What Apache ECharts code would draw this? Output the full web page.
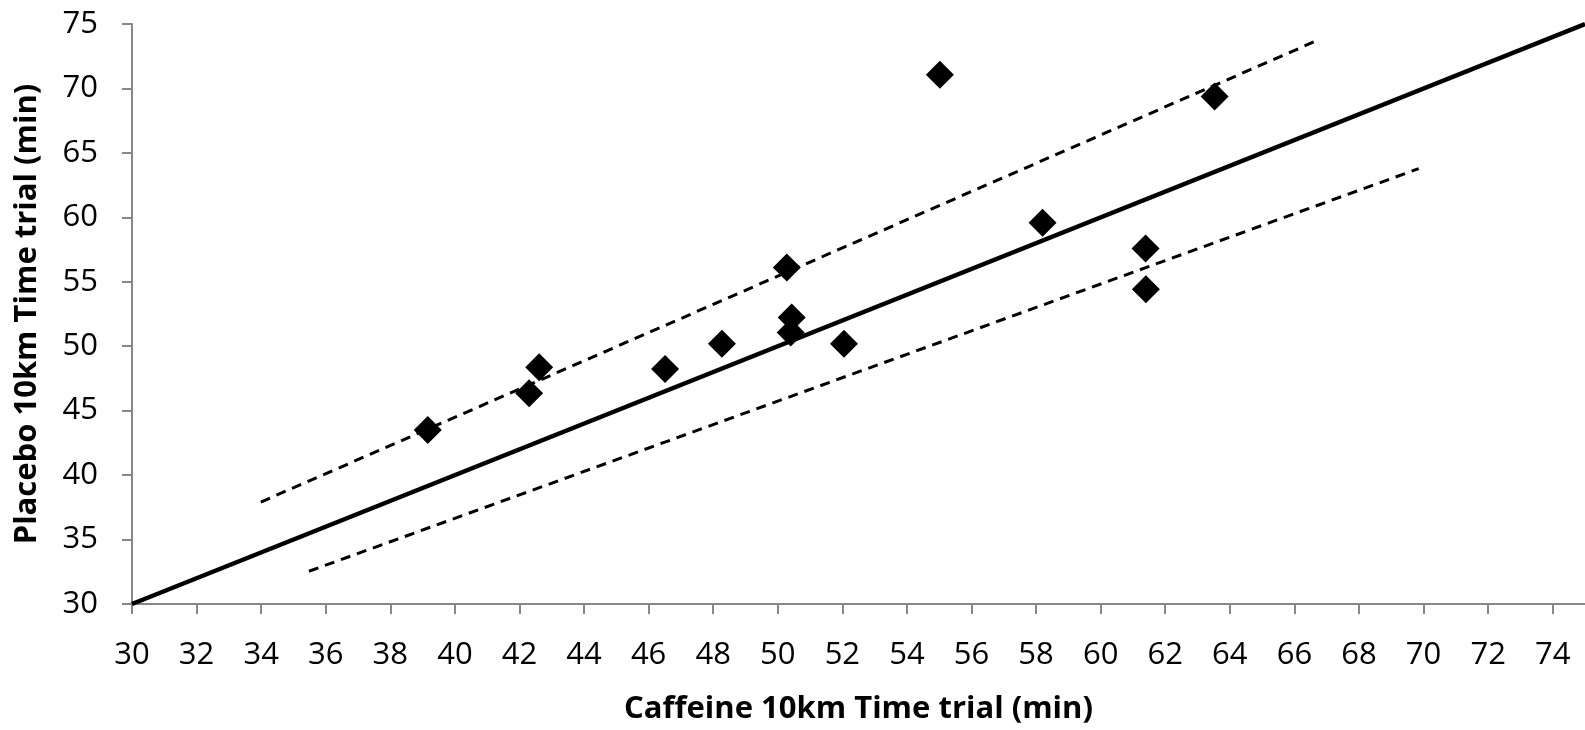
<!DOCTYPE html>
<html>
<head>
<meta charset="utf-8">
<script src="https://cdn.jsdelivr.net/npm/echarts@6/dist/echarts.min.js"></script>
<style>
html,body{margin:0;padding:0;background:#fff;overflow:hidden;}
#chart{width:1585px;height:730px;}
</style>
</head>
<body>
<div id="chart"></div>
<script>
// Caffeine (x) vs Placebo (y) 10km time trial (min)
const caffeine = [39.16, 42.30, 42.61, 46.51, 48.27, 50.28, 50.43, 50.40, 52.05, 55.02, 58.20, 61.39, 61.40, 63.53];
const placebo  = [43.50, 46.35, 48.36, 48.23, 50.20, 56.10, 52.23, 51.07, 50.20, 71.06, 59.58, 57.59, 54.42, 69.38];

// line of identity
const identityX = [30, 75];
const identityY = [30, 75];
// upper and lower limits (dashed)
const upperX = [33.99, 66.63];
const upperY = [37.91, 73.64];
const lowerX = [35.48, 69.85];
const lowerY = [32.54, 63.78];

const xTicks = [30,32,34,36,38,40,42,44,46,48,50,52,54,56,58,60,62,64,66,68,70,72,74];
const yTicks = [30,35,40,45,50,55,60,65,70,75];

const xTitle = 'Caffeine 10km Time trial (min)';
const yTitle = 'Placebo 10km Time trial (min)';

const zip = (a, b) => a.map((v, i) => [v, b[i]]);

const chart = echarts.init(document.getElementById('chart'), null, {renderer: 'canvas'});
const axisColor = '#878787';
const font = '"Open Sans", "Noto Sans", sans-serif';

chart.setOption({
  animation: false,
  backgroundColor: '#ffffff',
  grid: {left: 132, right: -5, top: 24, bottom: 125, containLabel: false},
  xAxis: {
    type: 'value', min: 30, max: 75, interval: 2,
    splitLine: {show: false},
    axisLine: {show: true, onZero: false, lineStyle: {color: axisColor, width: 2}},
    axisTick: {show: true, length: 10, lineStyle: {color: axisColor, width: 2}, customValues: xTicks},
    axisLabel: {color: '#000', fontSize: 31, fontFamily: font, margin: 36, customValues: xTicks},
    name: xTitle, nameLocation: 'middle', nameGap: 90,
    nameTextStyle: {color: '#000', fontSize: 31, fontWeight: 'bold', fontFamily: font}
  },
  yAxis: {
    type: 'value', min: 30, max: 75, interval: 5,
    splitLine: {show: false},
    axisLine: {show: true, onZero: false, lineStyle: {color: axisColor, width: 2}},
    axisTick: {show: true, length: 10, lineStyle: {color: axisColor, width: 2}, customValues: yTicks},
    axisLabel: {color: '#000', fontSize: 31, fontFamily: font, margin: 34, customValues: yTicks},
    name: yTitle, nameLocation: 'middle', nameGap: 89, nameRotate: 90,
    nameTextStyle: {color: '#000', fontSize: 31, fontWeight: 'bold', fontFamily: font}
  },
  series: [
    {
      type: 'line', data: zip(identityX, identityY), symbol: 'none',
      lineStyle: {color: '#000', width: 4.5}, z: 2, silent: true
    },
    {
      type: 'line', data: zip(upperX, upperY), symbol: 'none',
      lineStyle: {color: '#000', width: 3, type: [10, 7]}, z: 2, silent: true
    },
    {
      type: 'line', data: zip(lowerX, lowerY), symbol: 'none',
      lineStyle: {color: '#000', width: 3, type: [10, 7]}, z: 2, silent: true
    },
    {
      type: 'scatter', data: zip(caffeine, placebo), symbol: 'diamond', symbolSize: 28,
      itemStyle: {color: '#000', opacity: 1}, z: 3
    }
  ]
});
</script>
</body>
</html>
